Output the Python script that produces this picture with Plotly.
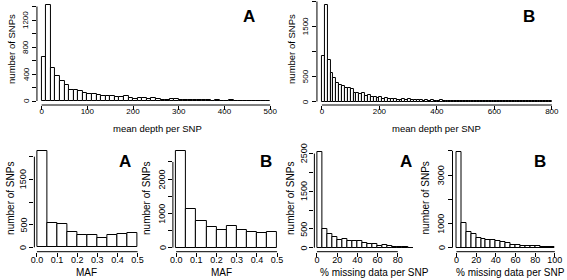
import numpy as np
import plotly.graph_objects as go

W, H = 567, 280
FONT = "Liberation Sans, Arial, sans-serif"

# ---------------- data ----------------
depth_A_bin_width = 10
depth_A_counts = [650, 1420, 493, 365, 291, 232, 168, 170, 143, 123,
                  108, 99, 89, 70, 78, 75, 59, 64, 78, 49,
                  35, 38, 45, 35, 38, 35, 20, 15, 30, 25,
                  20, 20, 10, 12, 8, 10, 8, 5, 8, 6,
                  5, 12, 5, 4, 3, 6, 2, 2, 1, 2]
depth_A_xticks = [0, 100, 200, 300, 400, 500]
depth_A_yticks = [0, 200, 400, 600, 800, 1000, 1200, 1400]
depth_A_ylabels = ["0", "", "400", "", "800", "", "1200", ""]

depth_B_bin_width = 10
depth_B_counts = [920, 1940, 833, 567, 467, 380, 333, 307, 273, 267,
                  247, 180, 167, 153, 173, 120, 133, 87, 100, 80,
                  87, 53, 73, 60, 50, 60, 40, 35, 45, 40,
                  45, 30, 25, 40, 25, 20, 30, 20, 25, 15,
                  20, 25, 15, 20, 15, 10, 8, 6, 5, 4,
                  5, 3, 3, 2, 3, 2, 15, 2, 1, 2,
                  1, 1, 2, 1, 1, 1, 1, 1, 1, 1,
                  1, 1, 1, 1, 1, 1, 1, 1, 1, 1]
depth_B_xticks = [0, 200, 400, 600, 800]
depth_B_yticks = [0, 500, 1000, 1500, 2000]
depth_B_ylabels = ["0", "500", "", "1500", ""]

maf_bin_width = 0.05
maf_A_counts = [2125, 529, 507, 331, 279, 272, 213, 272, 301, 316]
maf_B_counts = [2829, 1141, 790, 595, 527, 624, 527, 449, 429, 459]
maf_xticks = [0.0, 0.1, 0.2, 0.3, 0.4, 0.5]
maf_xlabels = ["0.0", "0.1", "0.2", "0.3", "0.4", "0.5"]
maf_A_yticks = [0, 500, 1000, 1500, 2000]
maf_A_ylabels = ["0", "500", "", "1500", ""]
maf_B_yticks = [0, 500, 1000, 1500, 2000, 2500]
maf_B_ylabels = ["0", "", "1000", "", "2000", ""]

missing_bin_width = 5
missing_A_counts = [2550, 496, 354, 283, 212, 221, 186, 168, 186, 124,
                    88, 106, 53, 62, 35, 18, 15, 8, 5]
missing_B_counts = [3970, 1004, 660, 578, 385, 371, 316, 316, 261, 220,
                    179, 124, 96, 69, 82, 55, 69, 28, 14, 10]
missing_A_xticks = [0, 20, 40, 60, 80]
missing_B_xticks = [0, 20, 40, 60, 80, 100]
missing_A_yticks = [0, 500, 1000, 1500, 2000, 2500]
missing_A_ylabels = ["0", "500", "", "1500", "", "2500"]
missing_B_yticks = [0, 1000, 2000, 3000, 4000]
missing_B_ylabels = ["0", "1000", "", "3000", ""]

# ---------------- panel layout (pixel geometry) ----------------
panels = [
    dict(counts=depth_A_counts, bw=depth_A_bin_width, xt=depth_A_xticks, xl=None,
         yt=depth_A_yticks, yl=depth_A_ylabels, L=33.3, R=280, B=105, T=2,
         xmap=(0, 38, 500, 269), y0px=101, ky=0.0675, tfs=8, xso=-6, ylx=22.3,
         xtitle="mean depth per SNP", xt_pos=(155, 129), yt_pos=(7, 49),
         letter="A", let_pos=(247.5, 16), title_fs=9.5),
    dict(counts=depth_B_counts, bw=depth_B_bin_width, xt=depth_B_xticks, xl=None,
         yt=depth_B_yticks, yl=depth_B_ylabels, L=316.3, R=562, B=105, T=1,
         xmap=(0, 321.3, 800, 553.7), y0px=101.5, ky=0.05, tfs=8, xso=-6, ylx=305,
         xtitle="mean depth per SNP", xt_pos=(437, 129), yt_pos=(290, 49),
         letter="B", let_pos=(530.5, 16), title_fs=9.5),
    dict(counts=maf_A_counts, bw=maf_bin_width, xt=maf_xticks, xl=maf_xlabels,
         yt=maf_A_yticks, yl=maf_A_ylabels, L=30.7, R=140, B=251.7, T=147,
         xmap=(0, 33.3, 0.5, 135), y0px=247.3, ky=0.0453, tfs=9, xso=-5, ylx=20,
         xtitle="MAF", xt_pos=(83.5, 272), yt_pos=(6, 198),
         letter="A", let_pos=(122.5, 161), title_fs=10),
    dict(counts=maf_B_counts, bw=maf_bin_width, xt=maf_xticks, xl=maf_xlabels,
         yt=maf_B_yticks, yl=maf_B_ylabels, L=170.7, R=280, B=251.7, T=147,
         xmap=(0, 174, 0.5, 276), y0px=247.7, ky=0.0343, tfs=9, xso=-5, ylx=160,
         xtitle="MAF", xt_pos=(220, 272), yt_pos=(143.5, 198),
         letter="B", let_pos=(265, 161), title_fs=10),
    dict(counts=missing_A_counts, bw=missing_bin_width, xt=missing_A_xticks, xl=None,
         yt=missing_A_yticks, yl=missing_A_ylabels, L=313.7, R=420, B=251.7, T=147,
         xmap=(0, 316.3, 80, 398), y0px=247.7, ky=0.03765, tfs=9, xso=-5, ylx=303,
         xtitle="% missing data per SNP", xt_pos=(374, 272), yt_pos=(289, 198),
         letter="A", let_pos=(406.5, 161), title_fs=10),
    dict(counts=missing_B_counts, bw=missing_bin_width, xt=missing_B_xticks, xl=None,
         yt=missing_B_yticks, yl=missing_B_ylabels, L=453.3, R=562, B=251.7, T=147,
         xmap=(0, 457.3, 100, 556.7), y0px=247.7, ky=0.02423, tfs=9, xso=-5, ylx=442,
         xtitle="% missing data per SNP", xt_pos=(512, 272), yt_pos=(426, 198),
         letter="B", let_pos=(541.5, 161), title_fs=10),
]

fig = go.Figure()
shapes, annotations = [], []
layout_axes = {}

for i, p in enumerate(panels, start=1):
    xa = "x" if i == 1 else f"x{i}"
    ya = "y" if i == 1 else f"y{i}"
    counts = np.array(p["counts"], dtype=float)
    centers = np.arange(len(counts)) * p["bw"] + p["bw"] / 2
    fig.add_trace(go.Bar(
        x=centers, y=counts, width=p["bw"],
        marker=dict(color="white", line=dict(color="black", width=1)),
        xaxis=xa, yaxis=ya, showlegend=False, hoverinfo="skip"))

    a, pa, b, pb = p["xmap"]
    kx = (pb - pa) / (b - a)
    xr = [a + (p["L"] - pa) / kx, a + (p["R"] - pa) / kx]
    yr = [(p["y0px"] - p["B"]) / p["ky"], (p["y0px"] - p["T"]) / p["ky"]]

    tickfont = dict(size=p["tfs"], color="black", family=FONT)
    xaxis = dict(domain=[p["L"] / W, p["R"] / W], range=xr, anchor=ya,
                 tickvals=p["xt"], ticks="outside", ticklen=4, tickwidth=1,
                 tickcolor="black", showline=False, showgrid=False, zeroline=False,
                 tickfont=tickfont, fixedrange=True, ticklabelstandoff=p["xso"])
    if p["xl"] is not None:
        xaxis["ticktext"] = p["xl"]
    yaxis = dict(domain=[1 - p["B"] / H, 1 - p["T"] / H], range=yr, anchor=xa,
                 tickvals=p["yt"], ticks="outside", ticklen=4,
                 tickwidth=1, tickcolor="black", showline=False, showgrid=False,
                 zeroline=False, showticklabels=False, fixedrange=True)
    layout_axes["xaxis" if i == 1 else f"xaxis{i}"] = xaxis
    layout_axes["yaxis" if i == 1 else f"yaxis{i}"] = yaxis

    # R-style axis lines spanning first to last tick
    shapes.append(dict(type="line", xref=xa, yref=f"{ya} domain",
                       x0=p["xt"][0], x1=p["xt"][-1], y0=0, y1=0,
                       line=dict(color="black", width=1)))
    shapes.append(dict(type="line", xref=f"{xa} domain", yref=ya,
                       x0=0, x1=0, y0=p["yt"][0], y1=p["yt"][-1],
                       line=dict(color="black", width=1)))

    # rotated y tick labels (R las=0 style), some skipped as in R
    for val, lab in zip(p["yt"], p["yl"]):
        if lab:
            annotations.append(dict(text=lab, xref="paper", yref=ya,
                                    x=p["ylx"] / W, y=val, xanchor="center",
                                    yanchor="middle", showarrow=False, textangle=-90,
                                    font=tickfont))

    annotations.append(dict(text=p["xtitle"], xref="paper", yref="paper",
                            x=p["xt_pos"][0] / W, y=1 - p["xt_pos"][1] / H,
                            xanchor="center", yanchor="middle", showarrow=False,
                            font=dict(size=p["title_fs"], color="black", family=FONT)))
    annotations.append(dict(text="number of SNPs", xref="paper", yref="paper",
                            x=p["yt_pos"][0] / W, y=1 - p["yt_pos"][1] / H,
                            xanchor="center", yanchor="middle", showarrow=False,
                            textangle=-90,
                            font=dict(size=p["title_fs"], color="black", family=FONT)))
    annotations.append(dict(text=f"<b>{p['letter']}</b>", xref="paper", yref="paper",
                            x=p["let_pos"][0] / W, y=1 - p["let_pos"][1] / H,
                            xanchor="center", yanchor="middle", showarrow=False,
                            font=dict(size=17, color="black", family=FONT)))

fig.update_layout(
    width=W, height=H, margin=dict(l=0, r=0, t=0, b=0),
    paper_bgcolor="white", plot_bgcolor="white",
    shapes=shapes, annotations=annotations, bargap=0,
    **layout_axes)

fig.write_html("out.html", config={"displayModeBar": False},
               post_script="document.body.style.margin='0';document.body.style.padding='0';")
